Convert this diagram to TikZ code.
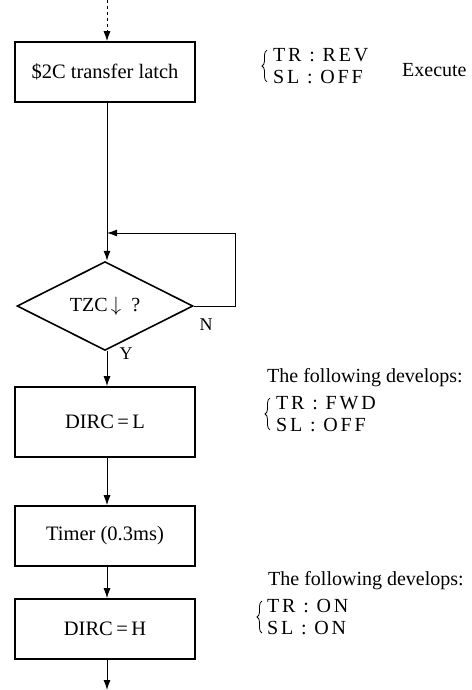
\documentclass[tikz,border=0pt]{standalone}
\usepackage{fontspec}
\setmainfont{Liberation Serif}
\newfontfamily\condfont[LetterSpace=14]{Liberation Serif}
\usetikzlibrary{shapes.geometric,arrows.meta,decorations.pathreplacing}
\begin{document}
\begin{tikzpicture}[x=1pt,y=-1pt,
  stepbox/.style={draw,line width=1.6pt,minimum width=180pt,inner sep=0pt,font=\fontsize{20.5}{24}\selectfont},
  decide/.style={diamond,draw,line width=1.6pt,minimum width=176pt,minimum height=79pt,inner sep=0pt,font=\fontsize{20}{24}\selectfont},
  flow/.style={line width=1pt,-{Latex[length=10pt,width=7pt]}},
  plain/.style={line width=1pt},
  branch/.style={inner sep=0pt,font=\fontsize{18}{21}\selectfont},
  note/.style={anchor=west,inner sep=0pt,font=\fontsize{20}{24}\selectfont},
  cond/.style={anchor=west,inner sep=0pt,align=left,font=\condfont\fontsize{20}{22}\selectfont},
  curly/.style={decorate,decoration={brace,amplitude=5pt},line width=0.8pt}]
\useasboundingbox (0,0) rectangle (471,690);

% process steps
\node[stepbox,minimum height=60pt] (latch) at (105,72) {\$2C transfer latch};
\node[decide] (tzc) at (105,306) {TZC\,$\downarrow$\ \ ?};
\node[stepbox,minimum height=70pt] (dircl) at (105,422) {DIRC\,=\,L};
\node[stepbox,minimum height=60pt] (timer) at (105,536) {Timer (0.3ms)};
\node[stepbox,minimum height=60pt] (dirch) at (105,629) {DIRC\,=\,H};

% entry and exit
\coordinate (entry) at (107,0);
\coordinate (exit) at (107,690);
\draw[flow,dashed] (entry) -- (latch.north -| entry);
\draw[flow] (dirch.south -| exit) -- (exit);

% wait loop on TZC
\coordinate (join) at (107,233);
\coordinate (back) at (235,233);
\draw[plain] (latch.south -| join) -- (join);
\draw[flow] (join) -- (tzc.north -| join);
\draw[flow] (tzc.east) -- (tzc.east -| back) -- (back) -- (join);
\node[branch] (nlab) at (206,325) {N};
\node[branch] (ylab) at (126,354) {Y};

% remaining flow
\draw[flow] (tzc.south -| join) -- (dircl.north -| join);
\draw[flow] (dircl.south -| join) -- (timer.north -| join);
\draw[flow] (timer.south -| join) -- (dirch.north -| join);

% output conditions
\node[cond] (c1) at (273,66) {TR : REV\\SL : OFF};
\draw[curly] ([xshift=-6pt,yshift=2pt]c1.south west) -- ([xshift=-6pt,yshift=-2pt]c1.north west);
\node[note] (ex1) at (402,70) {Execute};

\node[note] (dev1) at (267,378) {The following develops:};
\node[cond] (c2) at (276,414) {TR : FWD\\SL : OFF};
\draw[curly] ([xshift=-6pt,yshift=2pt]c2.south west) -- ([xshift=-6pt,yshift=-2pt]c2.north west);

\node[note] (dev2) at (268,581) {The following develops:};
\node[cond] (c3) at (267,617) {TR : ON\\SL : ON};
\draw[curly] ([xshift=-5pt,yshift=2pt]c3.south west) -- ([xshift=-5pt,yshift=-2pt]c3.north west);
\end{tikzpicture}
\end{document}
